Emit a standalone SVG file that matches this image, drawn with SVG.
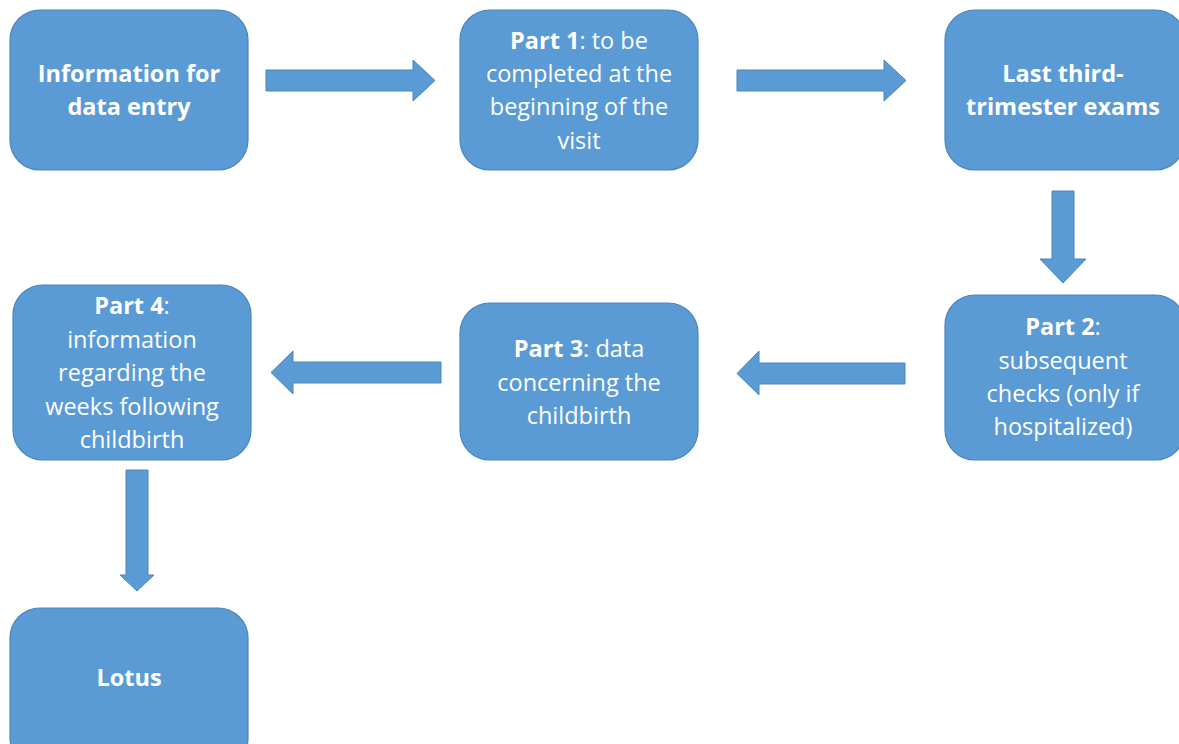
<svg xmlns="http://www.w3.org/2000/svg" width="1179" height="744" viewBox="0 0 1179 744">
<style>
.box{fill:#5B9BD5;stroke:#4A86BE;stroke-width:1.2}
.arr{fill:#5B9BD5;stroke:#4A86BE;stroke-width:1}
text{font-family:"Open Sans","Liberation Sans",sans-serif;font-size:23.5px;fill:#ffffff;text-anchor:middle}
.b{font-weight:bold}
</style>
<rect width="1179" height="744" fill="#ffffff"/>
<g id="connectors">
<polygon class="arr" points="266,70 413,70 413,60 435,80.5 413,101 413,91 266,91"/>
<polygon class="arr" points="737,70 884,70 884,60 906,80.5 884,101 884,91 737,91"/>
<polygon class="arr" points="1052,191 1074,191 1074,259 1086,259 1063,283 1040,259 1052,259"/>
<polygon class="arr" points="905,363 759,363 759,351 737,373.5 759,395 759,384 905,384"/>
<polygon class="arr" points="441,362 293,362 293,351 271,372.5 293,394 293,383 441,383"/>
<polygon class="arr" points="126,470 148,470 148,575 154,575 137,591 120,575 126,575"/>
</g>
<g id="node-info">
<rect class="box" x="10" y="10" width="238" height="160" rx="30"/>
<text class="b" x="129" y="82">Information for</text>
<text class="b" x="129" y="115">data entry</text>
</g>
<g id="node-part1">
<rect class="box" x="460" y="10" width="238" height="160" rx="30"/>
<text x="579" y="49"><tspan class="b">Part 1</tspan>: to be</text>
<text x="579" y="82">completed at the</text>
<text x="579" y="115">beginning of the</text>
<text x="579" y="149">visit</text>
</g>
<g id="node-third">
<rect class="box" x="945" y="10" width="240" height="160" rx="30"/>
<text class="b" x="1063" y="82">Last third-</text>
<text class="b" x="1063" y="115">trimester exams</text>
</g>
<g id="node-part2">
<rect class="box" x="945" y="295" width="240" height="165" rx="30"/>
<text class="b" x="1063" y="335">Part 2<tspan font-weight="normal">:</tspan></text>
<text x="1063" y="369">subsequent</text>
<text x="1063" y="402">checks (only if</text>
<text x="1063" y="435">hospitalized)</text>
</g>
<g id="node-part3">
<rect class="box" x="460" y="303" width="238" height="157" rx="30"/>
<text x="579" y="357"><tspan class="b">Part 3</tspan>: data</text>
<text x="579" y="391">concerning the</text>
<text x="579" y="424">childbirth</text>
</g>
<g id="node-part4">
<rect class="box" x="13" y="285" width="238" height="175" rx="30"/>
<text class="b" x="132" y="314">Part 4<tspan font-weight="normal">:</tspan></text>
<text x="132" y="348">information</text>
<text x="132" y="381">regarding the</text>
<text x="132" y="415">weeks following</text>
<text x="132" y="448">childbirth</text>
</g>
<g id="node-lotus">
<rect class="box" x="10" y="608" width="238" height="160" rx="30"/>
<text class="b" x="129" y="686">Lotus</text>
</g>
</svg>
